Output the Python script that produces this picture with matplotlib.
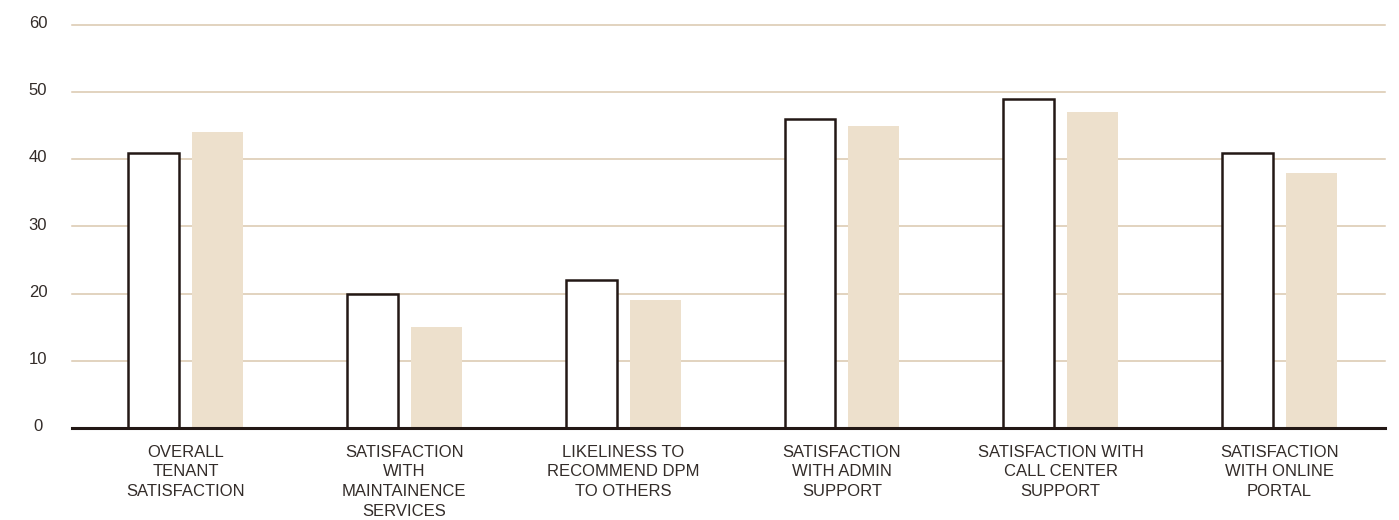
"""Tenant satisfaction survey - grouped bar chart"""

import matplotlib
matplotlib.use('Agg')
import matplotlib.pyplot as plt
import matplotlib.transforms as mtransforms
import numpy as np

plt.rcParams['font.family'] = ['Liberation Sans', 'DejaVu Sans']

# data
categories = [
    'OVERALL\nTENANT\nSATISFACTION',
    'SATISFACTION\nWITH\nMAINTAINENCE\nSERVICES',
    'LIKELINESS TO\nRECOMMEND DPM\nTO OTHERS',
    'SATISFACTION\nWITH ADMIN\nSUPPORT',
    'SATISFACTION WITH\nCALL CENTER\nSUPPORT',
    'SATISFACTION\nWITH ONLINE\nPORTAL',
]
series_outline = [41, 20, 22, 46, 49, 41]
series_beige = [44, 15, 19, 45, 47, 38]
yticks = [0, 10, 20, 30, 40, 50, 60]

dark = '#231815'
beige = '#ede0cc'
grid_col = '#dac7ae'
text_col = '#332c29'

fig = plt.figure(figsize=(13.99, 5.20), dpi=100)
ax = fig.add_axes([72 / 1399, 92 / 520, 1313 / 1399, 403 / 520])

x = np.arange(len(categories))
w = 0.233
off = 0.146

ax.bar(x - off, series_outline, w, facecolor='white', edgecolor=dark, linewidth=1.8, zorder=3)
ax.bar(x + off, series_beige, w, color=beige, linewidth=0, zorder=3)

ax.set_xlim(-0.519, 5.482)
ax.set_ylim(0, 60)
ax.set_yticks(yticks)
ax.set_yticklabels([])
ax.set_xticks(x)
ax.set_xticklabels(categories, linespacing=1.4)

# horizontal grid lines behind the bars
ax.set_axisbelow(True)
ax.yaxis.grid(True, color=grid_col, linewidth=1.1)
for gl in ax.get_ygridlines():
    gl.set_clip_on(False)
ax.xaxis.grid(False)

# y labels centred in the left margin, baseline a little below each line
ytrans = ax.get_yaxis_transform() + mtransforms.ScaledTranslation(0, -3 / 100, fig.dpi_scale_trans)
for v in yticks:
    ax.text(-34 / 1313, v, str(v), transform=ytrans, ha='center', va='baseline',
            fontsize=12, color=text_col, clip_on=False)

for s in ['top', 'right', 'left']:
    ax.spines[s].set_visible(False)
ax.spines['bottom'].set_color(dark)
ax.spines['bottom'].set_linewidth(2.2)
ax.spines['bottom'].set_zorder(4)

ax.tick_params(axis='both', length=0, labelsize=12, labelcolor=text_col)
ax.tick_params(axis='x', pad=12)

plt.savefig('out.png', dpi=100)
